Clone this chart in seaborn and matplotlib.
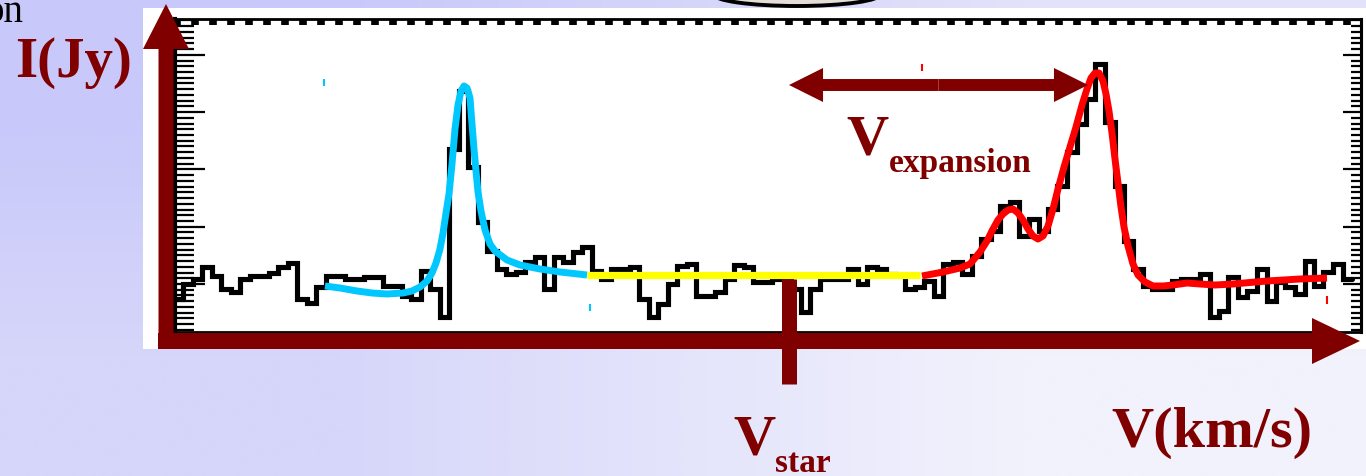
import numpy as np
import matplotlib
matplotlib.use("Agg")
import matplotlib.pyplot as plt
from matplotlib.patches import Rectangle, Ellipse, FancyArrowPatch
from matplotlib.ticker import MultipleLocator
import seaborn as sns

# observed spectrum: regular channel grid (km/s, relative to V_star), flux in Jy
v_first = -61.5
dv = 0.95
flux = [0.33, 0.48, 0.53, 0.65, 0.56, 0.43, 0.40, 0.53, 0.56, 0.56,
        0.59, 0.65, 0.69, 0.33, 0.29, 0.45, 0.56, 0.56, 0.53, 0.53,
        0.55, 0.55, 0.46, 0.46, 0.36, 0.33, 0.61, 0.43, 0.15, 1.83,
        2.41, 1.65, 1.10, 0.81, 0.63, 0.58, 0.60, 0.70, 0.75, 0.43,
        0.75, 0.70, 0.80, 0.85, 0.61, 0.53, 0.63, 0.63, 0.65, 0.33,
        0.15, 0.28, 0.48, 0.66, 0.68, 0.36, 0.36, 0.40, 0.53, 0.67,
        0.65, 0.50, 0.50, 0.53, 0.53, 0.43, 0.20, 0.43, 0.53, 0.53,
        0.53, 0.63, 0.48, 0.65, 0.63, 0.58, 0.57, 0.43, 0.45, 0.51,
        0.36, 0.68, 0.70, 0.58, 0.76, 0.93, 1.01, 1.26, 1.30, 0.96,
        1.13, 1.01, 1.23, 1.46, 1.80, 2.08, 2.33, 2.68, 2.10, 1.46,
        0.91, 0.63, 0.46, 0.43, 0.43, 0.51, 0.53, 0.53, 0.58, 0.15,
        0.21, 0.55, 0.35, 0.41, 0.63, 0.31, 0.50, 0.45, 0.38, 0.71,
        0.46, 0.60, 0.68, 0.53]

# blue-shifted component fit
blue_v = [-46.4, -44.9, -43.2, -41.7, -40.2, -38.6, -37.7, -36.9, -36.2, -35.7,
          -35.3, -34.9, -34.6, -34.3, -34.0, -33.7, -33.4, -33.1, -32.8, -32.5,
          -32.2, -31.9, -31.7, -31.5, -31.3, -31.1, -30.8, -30.4, -29.9, -29.4,
          -28.2, -26.9, -24.9, -22.9, -20.2]
blue_i = [0.46, 0.44, 0.41, 0.39, 0.38, 0.39, 0.41, 0.45, 0.51, 0.59,
          0.69, 0.83, 0.99, 1.19, 1.38, 1.68, 2.03, 2.27, 2.41, 2.46,
          2.44, 2.34, 2.08, 1.83, 1.61, 1.40, 1.21, 1.02, 0.88, 0.81,
          0.72, 0.67, 0.63, 0.60, 0.57]

# continuum around the star velocity
base_v = [-20.2, 13.1]
base_i = [0.57, 0.57]

# red-shifted component fit
red_v = [13.3, 15.4, 17.1, 18.1, 19.1, 19.8, 20.4, 20.9, 21.4, 21.9,
         22.4, 22.9, 23.4, 23.9, 24.4, 24.9, 25.4, 25.9, 26.4, 26.9,
         27.5, 28.1, 28.7, 29.3, 29.8, 30.2, 30.6, 31.0, 31.4, 31.7,
         32.0, 32.3, 32.6, 32.9, 33.2, 33.5, 33.9, 34.4, 34.9, 35.6,
         36.4, 37.4, 38.4, 39.8, 41.1, 42.6, 44.4, 47.8, 51.1, 53.8]
red_i = [0.56, 0.60, 0.64, 0.68, 0.80, 0.91, 1.03, 1.12, 1.18, 1.22,
         1.23, 1.19, 1.12, 1.03, 0.96, 0.93, 0.96, 1.06, 1.23, 1.43,
         1.65, 1.85, 2.05, 2.27, 2.43, 2.54, 2.59, 2.59, 2.51, 2.38,
         2.21, 1.99, 1.73, 1.49, 1.25, 1.05, 0.86, 0.68, 0.57, 0.50,
         0.46, 0.46, 0.47, 0.49, 0.48, 0.47, 0.48, 0.51, 0.53, 0.54]

# small fit-window marks
mark_v = [-46.5, -19.9, 13.3, 53.8]
mark_lo = [2.46, 0.21, 2.61, 0.28]
mark_hi = [2.53, 0.28, 2.68, 0.36]
mark_col = ['#00c8ff', '#00c8ff', '#ff0000', '#ff0000']

v_star = 0.0
v_red_peak = 29.9
arrow_level = 2.47

maroon = '#800000'

sns.set_style('white')
plt.rcParams['font.family'] = ['Liberation Serif', 'DejaVu Serif']

fig = plt.figure(figsize=(13.66, 4.77), dpi=100)

# background layer, pixel coordinates
bg = fig.add_axes([0, 0, 1, 1], zorder=0)
grad = np.array([[[200, 200, 250], [226, 226, 251]],
                 [[214, 214, 250], [242, 242, 253]]]) / 255.0
bg.imshow(grad, extent=(0, 1366, 477, 0), interpolation='bilinear', aspect='auto')
bg.add_patch(Rectangle((143, 9), 1366 - 143, 350 - 9, fc='white', ec='none'))
bg.add_patch(Ellipse((797, -5), 168, 24, fc='#e4ddd8', ec='black', lw=2.8))
bg.text(23, 22, 'on', fontsize=28, color='black', ha='right', va='baseline')
bg.set_xlim(0, 1366)
bg.set_ylim(477, 0)
bg.axis('off')

# spectrum panel
ax = fig.add_axes([175 / 1366, (477 - 333) / 477, (1361 - 175) / 1366, (333 - 20) / 477], zorder=2)
ax.set_facecolor('none')

edges = v_first + dv * np.arange(len(flux) + 1)
steps = flux + [flux[-1]]
sns.lineplot(x=edges, y=steps, ax=ax, color='black', lw=3.7, drawstyle='steps-post',
             estimator=None, sort=False, solid_joinstyle='miter', zorder=2)
sns.lineplot(x=blue_v, y=blue_i, ax=ax, color='#00c8ff', lw=5.0,
             estimator=None, sort=False, solid_capstyle='butt', zorder=3)
sns.lineplot(x=base_v, y=base_i, ax=ax, color='#ffff00', lw=5.2,
             estimator=None, sort=False, solid_capstyle='butt', zorder=4)
sns.lineplot(x=red_v, y=red_i, ax=ax, color='#ff0000', lw=5.0,
             estimator=None, sort=False, solid_capstyle='butt', zorder=3)
ax.vlines(mark_v, mark_lo, mark_hi, colors=mark_col, lw=1.5, zorder=3)

# star velocity marker, reaching below the axis
ax.vlines([v_star], [-0.52], [0.53], colors=maroon, lw=10.8, clip_on=False, zorder=3)

# expansion velocity double arrow
mid = (v_star + v_red_peak) / 2
for end in (v_star, v_red_peak):
    ax.add_patch(FancyArrowPatch((mid, arrow_level), (end, arrow_level),
                                 arrowstyle='simple,head_length=24.5,head_width=24.5,tail_width=8.6',
                                 mutation_scale=1, lw=0, color=maroon,
                                 shrinkA=0, shrinkB=0, zorder=5))

ax.set_xlim((175 - 789) / 10, (1361 - 789) / 10)
ax.set_ylim(0, 3.13)
ax.set_xlabel('')
ax.set_ylabel('')

ax.xaxis.set_ticks_position('top')
ax.xaxis.set_major_locator(MultipleLocator(1.8))
ax.tick_params(axis='x', which='major', direction='in', top=True, bottom=False,
               labeltop=False, labelbottom=False, length=4.5, width=5.5, color='black')
ax.yaxis.set_major_locator(MultipleLocator(0.573, offset=0.48))
ax.yaxis.set_minor_locator(MultipleLocator(0.0573, offset=0.0216))
ax.tick_params(axis='y', which='both', direction='in', left=True, right=False,
               labelleft=False, color='black', width=1.6)
ax.tick_params(axis='y', which='major', length=21.5)
ax.tick_params(axis='y', which='minor', length=14)

sec = ax.secondary_yaxis('right')
sec.yaxis.set_major_locator(MultipleLocator(0.573, offset=0.48))
sec.yaxis.set_minor_locator(MultipleLocator(0.0573, offset=0.0216))
sec.tick_params(axis='y', which='both', direction='in', labelright=False, color='black', width=1.6)
sec.tick_params(axis='y', which='major', length=13)
sec.tick_params(axis='y', which='minor', length=7)
sec.spines['right'].set_linewidth(2.2)

ax.spines['left'].set_linewidth(3)
ax.spines['top'].set_linewidth(2)
ax.spines['bottom'].set_linewidth(2)
ax.spines['right'].set_linewidth(2.2)
for s in ax.spines.values():
    s.set_color('black')

# foreground layer: axis arrows and labels
fg = fig.add_axes([0, 0, 1, 1], zorder=3)
fg.set_facecolor('none')
fg.set_xlim(0, 1366)
fg.set_ylim(477, 0)
fg.axis('off')
fg.arrow(166, 350, 0, -345, width=15, head_width=46, head_length=45,
         length_includes_head=True, fc=maroon, ec='none')
fg.arrow(158, 342, 1202, 0, width=16, head_width=46, head_length=48,
         length_includes_head=True, fc=maroon, ec='none')

lab = dict(color=maroon, fontweight='bold', va='baseline', ha='left')
fg.text(15, 77, 'I(Jy)', fontsize=41, **lab)
fg.text(846, 155, 'V', fontsize=42, **lab)
fg.text(889, 172, 'expansion', fontsize=24, **lab)
fg.text(733, 455, 'V', fontsize=42, **lab)
fg.text(775, 472, 'star', fontsize=24, **lab)
fg.text(1111, 447, 'V(km/s)', fontsize=42, **lab)

fig.savefig('out.png', dpi=100)
